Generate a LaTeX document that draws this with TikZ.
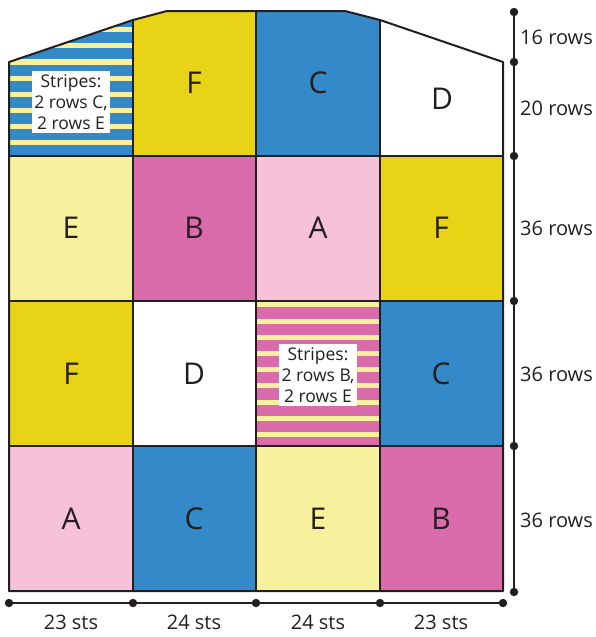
\documentclass[tikz,border=0pt]{standalone}
\usepackage{fontspec}
\setmainfont{Open Sans}
\usepackage{xcolor}
\definecolor{inkline}{RGB}{35,31,32}
\definecolor{yarnC}{RGB}{52,137,201}
\definecolor{yarnF}{RGB}{232,211,22}
\definecolor{yarnE}{RGB}{246,241,156}
\definecolor{yarnA}{RGB}{246,193,217}
\definecolor{yarnB}{RGB}{218,108,171}
\definecolor{yarnD}{RGB}{255,255,255}

\begin{document}
\begin{tikzpicture}[x=1pt, y=-1pt,
  % Node Styles
  letter/.style={text=inkline, font=\fontsize{30}{30}\selectfont, inner sep=0pt},
  stripelabel/.style={fill=white, text=inkline, align=center, inner xsep=2.5pt, inner ysep=3pt, font=\fontsize{17.5}{21}\selectfont},
  dimlabel/.style={text=inkline, font=\fontsize{20}{20}\selectfont, inner sep=0pt},
  % Line Styles
  gridline/.style={draw=inkline, line width=2pt},
  dimline/.style={draw=inkline, line width=2pt}
]
\useasboundingbox (0,0) rectangle (596,637);

% Plain cells
\fill[yarnF] (133,20) -- (167,11) -- (256,11) -- (256,156) -- (133,156) -- cycle;
\fill[yarnC] (256,11) -- (345,11) -- (380,20) -- (380,156) -- (256,156) -- cycle;
\fill[yarnD] (380,20) -- (503,62) -- (503,156) -- (380,156) -- cycle;
\fill[yarnE] (9,156) rectangle (133,301);
\fill[yarnB] (133,156) rectangle (256,301);
\fill[yarnA] (256,156) rectangle (380,301);
\fill[yarnF] (380,156) rectangle (503,301);
\fill[yarnF] (9,301) rectangle (133,446);
\fill[yarnD] (133,301) rectangle (256,446);
\fill[yarnC] (380,301) rectangle (503,446);
\fill[yarnA] (9,446) rectangle (133,591);
\fill[yarnC] (133,446) rectangle (256,591);
\fill[yarnE] (256,446) rectangle (380,591);
\fill[yarnB] (380,446) rectangle (503,591);

% Striped cells
\begin{scope}
  \clip (9,62) -- (133,20) -- (133,156) -- (9,156) -- cycle;
  \fill[yarnC] (9,11) rectangle (133,156);
  \foreach \k in {0,...,8}
    \fill[yarnE] (9,{142.7-16.15*\k-2.6}) rectangle (133,{142.7-16.15*\k+2.6});
\end{scope}
\fill[yarnB] (256,301) rectangle (380,446);
\foreach \k in {0,...,8}
  \fill[yarnE] (256,{434.5-16.2*\k-2.5}) rectangle (380,{434.5-16.2*\k+2.5});

% Outline and grid
\draw[gridline, line join=round] (9,591) -- (9,62) -- (133,20) -- (167,11) -- (345,11) -- (380,20) -- (503,62) -- (503,591) -- cycle;
\draw[gridline] (133,20) -- (133,591);
\draw[gridline] (256,11) -- (256,591);
\draw[gridline] (380,20) -- (380,591);
\draw[gridline] (9,156) -- (503,156);
\draw[gridline] (9,301) -- (503,301);
\draw[gridline] (9,446) -- (503,446);

% Cell labels
\node[stripelabel] (stripes_CE) at (71,102) {Stripes:\\2 rows C,\\2 rows E};
\node[letter] (cell_F1) at (194,83) {F};
\node[letter] (cell_C1) at (318,83) {C};
\node[letter] (cell_D1) at (442,99) {D};
\node[letter] (cell_E2) at (71,228) {E};
\node[letter] (cell_B2) at (194,228) {B};
\node[letter] (cell_A2) at (318,228) {A};
\node[letter] (cell_F2) at (441,228) {F};
\node[letter] (cell_F3) at (71,374) {F};
\node[letter] (cell_D3) at (194,374) {D};
\node[stripelabel] (stripes_BE) at (318,375) {Stripes:\\2 rows B,\\2 rows E};
\node[letter] (cell_C3) at (441,374) {C};
\node[letter] (cell_A4) at (71,519) {A};
\node[letter] (cell_C4) at (194,519) {C};
\node[letter] (cell_E4) at (318,519) {E};
\node[letter] (cell_B4) at (441,519) {B};

% Row measures
\draw[dimline] (514,12) -- (514,592);
\foreach \y in {12,62,156,301,446,592}
  \fill[inkline] (514,\y) circle (4.2pt);
\node[dimlabel, anchor=west] (rows_16) at (520,37) {16 rows};
\node[dimlabel, anchor=west] (rows_20) at (520,108) {20 rows};
\node[dimlabel, anchor=west] (rows_36a) at (520,228) {36 rows};
\node[dimlabel, anchor=west] (rows_36b) at (520,374) {36 rows};
\node[dimlabel, anchor=west] (rows_36c) at (520,520) {36 rows};

% Stitch measures
\draw[dimline] (9,603) -- (503,603);
\foreach \x in {9,133,256,380,503}
  \fill[inkline] (\x,603) circle (4.2pt);
\node[dimlabel] (sts_1) at (71,622) {23 sts};
\node[dimlabel] (sts_2) at (194,622) {24 sts};
\node[dimlabel] (sts_3) at (318,622) {24 sts};
\node[dimlabel] (sts_4) at (441,622) {23 sts};

\end{tikzpicture}
\end{document}
